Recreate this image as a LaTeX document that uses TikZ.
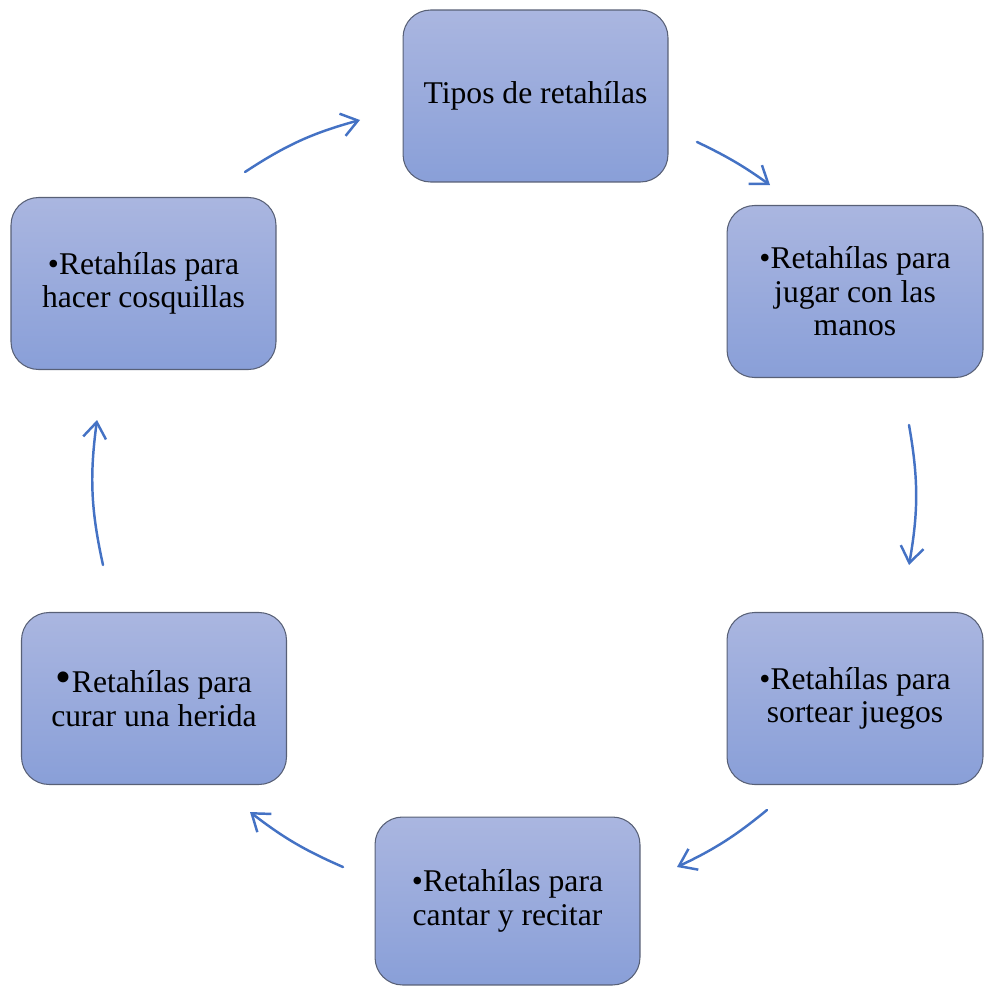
\documentclass[tikz,border=0pt]{standalone}
\usepackage{fontspec}
\setmainfont{Liberation Serif}
\usepackage{tikz}
\usetikzlibrary{arrows.meta}
\definecolor{BoxTop}{RGB}{170,182,224}
\definecolor{BoxBottom}{RGB}{137,159,216}
\definecolor{BoxLine}{RGB}{88,96,118}
\definecolor{CycleBlue}{RGB}{68,114,196}

\begin{document}
\begin{tikzpicture}[x=0.02cm, y=-0.02cm,
	  every node/.append style={font=\fontsize{18}{19}\selectfont, align=center},
	  arrow/.style={-{Straight Barb[length=3.2mm,width=4.6mm]}, color=CycleBlue, line width=1.4pt, line cap=round}]
	  \tikzstyle{item} = [rectangle, rounded corners=0.55cm, draw=BoxLine, line width=0.6pt,
	      top color=BoxTop, bottom color=BoxBottom, minimum width=5.3cm, minimum height=3.44cm, inner sep=2pt]
	  \useasboundingbox (0,0) rectangle (985,987);
	  \node (tipos) [item] at (535.5,96) {Tipos de retahílas};
	  \node (manos) [item, minimum width=5.12cm] at (855,291.5) {•Retahílas para\\jugar con las\\manos};
	  \node (sortear) [item, minimum width=5.12cm] at (855,698.5) {•Retahílas para\\sortear juegos};
	  \node (cantar) [item, minimum height=3.36cm] at (507.5,901) {•Retahílas para\\cantar y recitar};
	  \node (herida) [item] at (154,698.5) {{\fontsize{26}{19}\selectfont•}Retahílas para\\curar una herida};
	  \node (cosquillas) [item] at (143.5,283.5) {•Retahílas para\\hacer cosquillas};
	  \coordinate (c1a) at (245,172);
	  \coordinate (c1b) at (360,120);
	  \coordinate (c2a) at (697,142);
	  \coordinate (c2b) at (770,185);
	  \coordinate (c3a) at (909,425);
	  \coordinate (c3b) at (909,565);
	  \coordinate (c4a) at (767,810);
	  \coordinate (c4b) at (677,867);
	  \coordinate (c5a) at (343,867);
	  \coordinate (c5b) at (250,812);
	  \coordinate (c6a) at (103,565);
	  \coordinate (c6b) at (97,420);
	  \draw[arrow] (c1a) to[bend left=9] (c1b);
	  \draw[arrow] (c2a) to[bend left=5] (c2b);
	  \draw[arrow] (c3a) to[bend left=10] (c3b);
	  \draw[arrow] (c4a) to[bend left=7] (c4b);
	  \draw[arrow] (c5a) to[bend left=7] (c5b);
	  \draw[arrow] (c6a) to[bend left=10] (c6b);
	\end{tikzpicture}
\end{document}
